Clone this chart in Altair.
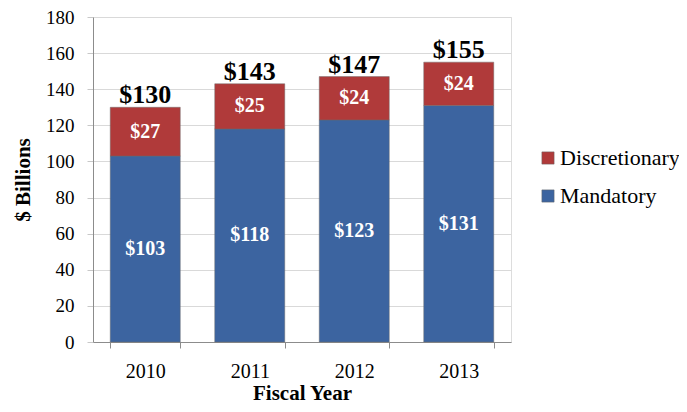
import altair as alt
import pandas as pd

years = ["2010", "2011", "2012", "2013"]
mandatory = [103, 118, 123, 131]
discretionary = [27, 25, 24, 24]
totals = [130, 143, 147, 155]

rows = []
for i, y in enumerate(years):
    rows.append({"year": y, "series": "Mandatory", "value": mandatory[i],
                 "mid": mandatory[i] / 2, "label": f"${mandatory[i]}", "ord": 0})
    rows.append({"year": y, "series": "Discretionary", "value": discretionary[i],
                 "mid": mandatory[i] + discretionary[i] / 2, "label": f"${discretionary[i]}", "ord": 1})
df = pd.DataFrame(rows)
tot = pd.DataFrame({"year": years, "total": totals, "label": [f"${t}" for t in totals]})

FONT = "Liberation Serif"

xscale = alt.Scale(paddingInner=0.33, paddingOuter=0.165)
xaxis = alt.Axis(labelAngle=0, tickBand="extent", labelFontSize=20, labelPadding=13,
                 titleFontSize=21, titleFontWeight="bold", titlePadding=1,
                 tickSize=6, tickColor="#8c8c8c", domainColor="#8c8c8c", grid=False)
yscale = alt.Scale(domain=[0, 180])
yaxis = alt.Axis(values=list(range(0, 181, 20)), labelOverlap=False, labelFontSize=19,
                 labelPadding=13, titleFontSize=21, titleFontWeight="bold", titlePadding=12,
                 tickSize=6, tickColor="#c8c8c8", domainColor="#8c8c8c", gridColor="#d9d9d9")

def X():
    return alt.X("year:N", title="Fiscal Year", scale=xscale, axis=xaxis)

bars = alt.Chart(df).mark_bar(stroke="#6b6b6b", strokeWidth=0.8, strokeOpacity=0.6).encode(
    x=X(),
    y=alt.Y("value:Q", stack="zero", title="$ Billions", scale=yscale, axis=yaxis),
    color=alt.Color("series:N",
                    scale=alt.Scale(domain=["Discretionary", "Mandatory"],
                                    range=["#B03A3A", "#3C64A0"]),
                    legend=alt.Legend(title=None, orient="none", legendX=444, legendY=130,
                                      symbolType="square", symbolSize=150, labelFontSize=22,
                                      rowPadding=16, symbolStrokeColor="#666",
                                      symbolStrokeWidth=0.5, labelOffset=1)),
    order=alt.Order("ord:Q"),
)

seg = alt.Chart(df).mark_text(color="white", fontWeight="bold", fontSize=20).encode(
    x=X(), y=alt.Y("mid:Q", title="$ Billions", scale=yscale, axis=yaxis), text="label:N")

top = alt.Chart(tot).mark_text(color="black", fontWeight="bold", fontSize=26,
                               baseline="alphabetic", dy=-4).encode(
    x=X(), y=alt.Y("total:Q", title="$ Billions", scale=yscale, axis=yaxis), text="label:N")

chart = alt.layer(bars, seg, top).properties(
    width=418, height=325,
    autosize=alt.AutoSizeParams(type="none"),
    padding={"left": 85, "top": 9, "right": 168, "bottom": 62},
).configure_view(stroke=None).configure(background="white", font=FONT).configure_axis(
    labelFont=FONT, titleFont=FONT, labelColor="#000", titleColor="#000"
).configure_legend(labelFont=FONT, labelColor="#000").configure_text(font=FONT)

chart.save("out.html", embed_options={"renderer": "svg", "actions": False})
